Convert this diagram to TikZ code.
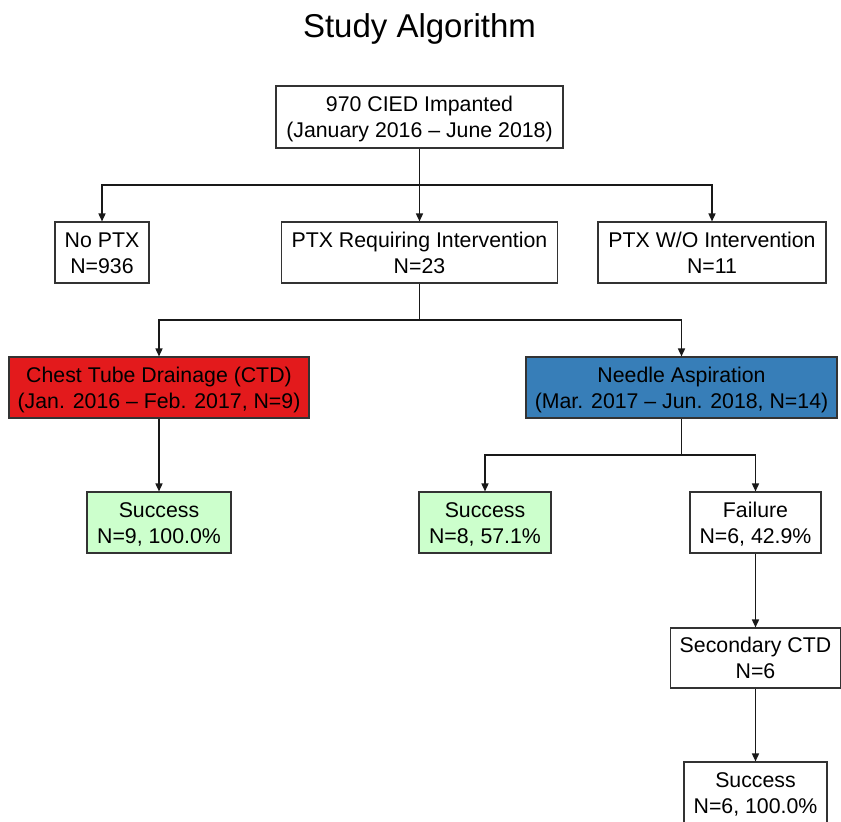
\documentclass[tikz,border=0pt]{standalone}
\usepackage{fontspec}
\setmainfont{Liberation Sans}
\usetikzlibrary{arrows.meta}
\definecolor{ctdred}{HTML}{E31A1C}
\definecolor{nablue}{HTML}{377EB8}
\definecolor{okgreen}{HTML}{CCFFCC}
\begin{document}
\begin{tikzpicture}[x=1pt,y=-1pt,
  box/.style={draw=black!80,line width=1.1pt,rectangle,align=center,inner sep=0pt,
    minimum height=61pt,text height=41.5pt,text depth=0pt,font=\fontsize{21.3}{26}\selectfont},
  conn/.style={draw=black!90,line width=1.5pt},
  arr/.style={conn,-{Triangle[length=8pt,width=7pt]}}]
\useasboundingbox (0,0) rectangle (841,822);
\node[font=\fontsize{33}{38}\selectfont] (title) at (419.5,28.5) {Study Algorithm};
\node[box,minimum width=287pt,minimum height=62pt] (top) at (419.5,117) {970 CIED Impanted\\(January 2016 -- June 2018)};
\node[box,minimum width=94pt] (nopt) at (102,252.5) {No PTX\\N=936};
\node[box,minimum width=276pt] (req) at (419.5,252.5) {PTX Requiring Intervention\\N=23};
\node[box,minimum width=228pt] (wo) at (712,252.5) {PTX W/O Intervention\\N=11};
\node[box,fill=ctdred,minimum width=300pt] (ctd) at (159,387.5) {Chest Tube Drainage (CTD)\\(Jan. 2016 -- Feb. 2017, N=9)};
\node[box,fill=nablue,minimum width=311pt] (na) at (681.5,387.5) {Needle Aspiration\\(Mar. 2017 -- Jun. 2018, N=14)};
\node[box,fill=okgreen,minimum width=144pt] (s1) at (159,522.5) {Success\\N=9, 100.0\%};
\node[box,fill=okgreen,minimum width=132pt] (s2) at (485,522.5) {Success\\N=8, 57.1\%};
\node[box,minimum width=131pt] (fail) at (755.5,522.5) {Failure\\N=6, 42.9\%};
\node[box,minimum width=170pt,minimum height=60pt] (sec) at (755.5,658) {Secondary CTD\\N=6};
\node[box,minimum width=143pt] (s3) at (755.5,792.5) {Success\\N=6, 100.0\%};
\coordinate (j1) at (419.5,185);
\coordinate (j2) at (419.5,320);
\coordinate (j3) at (681.5,455);
\draw[conn] (top.south) -- (j1);
\draw[arr] (j1) -| (nopt.north);
\draw[arr] (j1) -- (req.north);
\draw[arr] (j1) -| (wo.north);
\draw[conn] (req.south) -- (j2);
\draw[arr] (j2) -| (ctd.north);
\draw[arr] (j2) -| (na.north);
\draw[arr] (ctd.south) -- (s1.north);
\draw[conn] (na.south) -- (j3);
\draw[arr] (j3) -| (s2.north);
\draw[arr] (j3) -| (fail.north);
\draw[arr] (fail.south) -- (sec.north);
\draw[arr] (sec.south) -- (s3.north);
\end{tikzpicture}
\end{document}
